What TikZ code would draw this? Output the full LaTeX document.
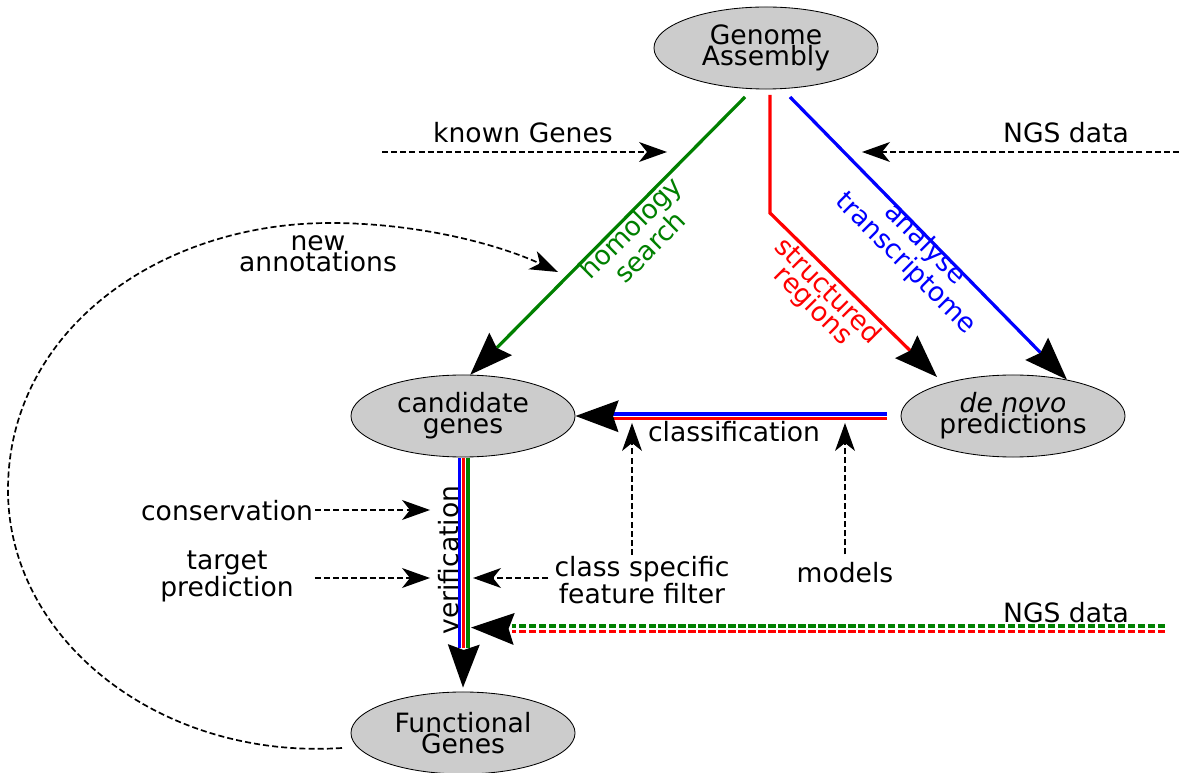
\documentclass[tikz,border=0pt]{standalone}
\usepackage{fontspec}
\setmainfont{DejaVu Sans}
\usepackage{xcolor}
\usetikzlibrary{shapes.geometric,arrows.meta}

\begin{document}
\begin{tikzpicture}[x=0.025cm, y=-0.025cm,
	gene/.style={ellipse, draw=black, line width=0.6pt, fill=gray!40, minimum width=5.6cm, minimum height=2.05cm, inner sep=0pt, align=center},
	lbl/.style={align=center, inner sep=0pt},
	bighead/.style={-{Stealth[length=1.08cm, width=0.8cm, inset=0.14cm, color=black, line width=0pt]}},
	smallhead/.style={-{Stealth[length=0.7cm, width=0.5cm, inset=0.2cm, color=black, line width=0pt]}},
	feed/.style={smallhead, black, line width=1.2pt, dash pattern=on 4.3pt off 2.2pt},
	flow/.style={line width=2.3pt},
	ngs/.style={line width=2.3pt, dash pattern=on 5.2pt off 1.9pt}]
			\tikzstyle{every node}=[font=\fontsize{18.9}{14.9}\selectfont];
			\useasboundingbox (0,0) rectangle (1179,773);
			
			%Genes
			\node[gene] (genome) at (766,48) {Genome\\Assembly};
			\node[gene] (cand) at (463,416) {candidate\\genes};
			\node[gene] (denovo) at (1013,416) {\textit{de novo}\\predictions};
			\node[gene] (func) at (463,733) {Functional\\Genes};
			
			%Homology search
			\coordinate (hsStart) at (745,97);
			\draw[flow, green!50!black, bighead] (hsStart) -- (cand.80);
			\node[lbl, green!50!black, rotate=45] at (640,237) {homology\\search};
			
			%Structured regions
			\coordinate (srStart) at (770,95);
			\coordinate (srBend) at (770,213);
			\coordinate (srTip) at (937,377);
			\draw[flow, red, bighead] (srStart) -- (srBend) -- (srTip);
			\node[lbl, red, rotate=-45] at (820,299) {structured\\regions};
			
			%Analyse transcriptome
			\coordinate (atStart) at (790,97);
			\draw[flow, blue, bighead] (atStart) -- (denovo.34);
			\node[lbl, blue, rotate=-45] at (915,254) {analyse\\transcriptome};
			
			%Inputs at the top
			\node[lbl] (known) at (523,133) {known Genes};
			\coordinate (kgStart) at (382,152);
			\coordinate (kgTip) at (667,152);
			\draw[feed] (kgStart) -- (kgTip);
			\node[lbl] (ngsTop) at (1066,133) {NGS data};
			\coordinate (ngStart) at (1179,152);
			\coordinate (ngTip) at (862,152);
			\draw[feed] (ngStart) -- (ngTip);
			
			%Classification
			\coordinate (clRight) at (887,416.2);
			\coordinate (clLeft) at (612,416.2);
			\draw[flow, blue] ([yshift=0.055cm]clRight) -- ([yshift=0.055cm]clLeft);
			\draw[flow, red] ([yshift=-0.055cm]clRight) -- ([yshift=-0.055cm]clLeft);
			\draw[bighead, white, line width=0.4pt] (clLeft) -- (cand.east);
			\node[lbl] at (734,432) {classification};
			
			%Filter and models
			\node[lbl] (filter) at (642,580) {class specific\\feature filter};
			\node[lbl] (models) at (845,573) {models};
			\coordinate (cfTip) at (632,423);
			\draw[feed] (632,555) -- (cfTip);
			\draw[feed, shorten <=0.2cm] (models.north) -- (models.north |- cfTip);
			\coordinate (ffTip) at (473,578);
			\draw[feed, shorten <=0.15cm] (filter.west |- ffTip) -- (ffTip);
			
			%Verification
			\coordinate (veTop) at (463.7,458);
			\coordinate (veEnd) at (463.7,648);
			\draw[flow, blue] ([xshift=-0.105cm]veTop) -- ([xshift=-0.105cm]veEnd);
			\draw[flow, red] (veTop) -- (veEnd);
			\draw[flow, green!50!black] ([xshift=0.105cm]veTop) -- ([xshift=0.105cm]veEnd);
			\draw[bighead, white, line width=0.4pt] (veEnd) -- ([yshift=0.1cm]func.north);
			\node[lbl, rotate=90] at (449,560) {verification};
			
			%Side inputs
			\node[lbl] (cons) at (227,511) {conservation};
			\coordinate (consTip) at (430,510);
			\draw[feed, shorten <=0.05cm] (cons.east |- consTip) -- (consTip);
			\node[lbl] (target) at (227,576) {target\\prediction};
			\coordinate (tgTip) at (430,578);
			\draw[feed, shorten <=0.52cm] (target.east |- tgTip) -- (tgTip);
			
			%NGS data at the bottom
			\node[lbl] (ngsBottom) at (1066,613) {NGS data};
			\coordinate (nbStart) at (1165,628.9);
			\coordinate (nbEnd) at (512,628.9);
			\coordinate (nbTip) at (471,627.5);
			\draw[ngs, green!50!black] ([yshift=0.071cm]nbStart) -- ([yshift=0.071cm]nbEnd);
			\draw[ngs, red] ([yshift=-0.071cm]nbStart) -- ([yshift=-0.071cm]nbEnd);
			\draw[bighead, white, line width=0.4pt] (nbEnd) -- (nbTip);
			
			%New annotations
			\coordinate (naStart) at (342,748);
			\coordinate (naTip) at (558,272);
			\draw[feed] (naStart) .. controls (160,760) and (8,640) .. (8,490)
				.. controls (8,330) and (160,223) .. (330,223)
				.. controls (420,223) and (500,245) .. (naTip);
			\node[lbl] at (318,254) {new\\annotations};
\end{tikzpicture}
\end{document}
